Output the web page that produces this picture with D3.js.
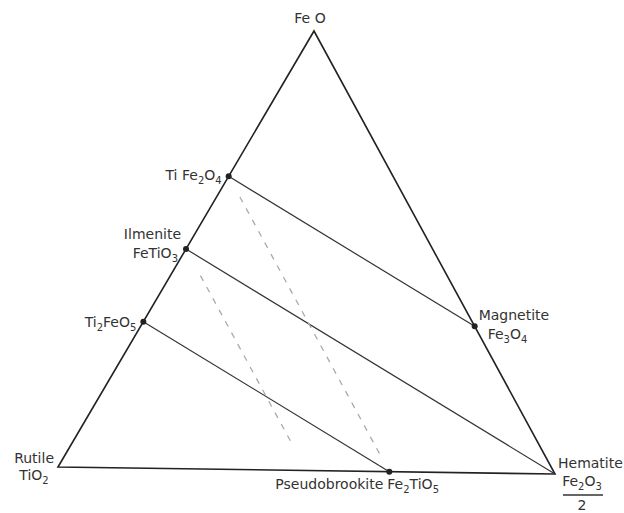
<!DOCTYPE html>
<html>
<head>
<meta charset="utf-8">
<script src="https://cdn.jsdelivr.net/npm/d3@7"></script>
<style>
  body { margin: 0; background: #fff; }
  text { font-family: "DejaVu Sans", "Liberation Sans", sans-serif; fill: #333; }
</style>
</head>
<body>
<div id="chart"></div>
<script>
// mole fractions: [TiO2, FeO, FeO1.5]
const phases = ["Rutile", "FeO", "Hematite", "TiFe2O4", "Ilmenite", "Ti2FeO5", "Magnetite", "Pseudobrookite"];
const tio2  = [1, 0, 0, 1/3, 1/2, 2/3, 0,   1/3];
const feo   = [0, 1, 0, 2/3, 1/2, 1/3, 1/3, 0];
const feo15 = [0, 0, 1, 0,   0,   0,   2/3, 2/3];

// solid tie lines between phases
const tieLines = [["TiFe2O4", "Magnetite"], ["Ilmenite", "Hematite"], ["Ti2FeO5", "Pseudobrookite"]];

// dashed oxidation trends at constant TiO2: [TiO2, FeO start, FeO end]
const dashTio2 = [1/3, 1/2];
const dashFeoStart = [0.62, 0.44];
const dashFeoEnd = [0.04, 0.06];

const width = 624, height = 513;

const svg = d3.select("#chart").append("svg")
  .attr("width", width)
  .attr("height", height);

// corners of the diagram on the page (Rutile, FeO, Hematite)
const corner = [[58, 467], [314, 31], [555, 474]];

function project(a, b, c) {
  const s = a + b + c;
  return [
    (a * corner[0][0] + b * corner[1][0] + c * corner[2][0]) / s,
    (a * corner[0][1] + b * corner[1][1] + c * corner[2][1]) / s
  ];
}

const pts = {};
phases.forEach((p, i) => { pts[p] = project(tio2[i], feo[i], feo15[i]); });

const line = d3.line();

// triangle
svg.append("path")
  .attr("d", line([pts.Rutile, pts.FeO, pts.Hematite]) + "Z")
  .attr("fill", "none")
  .attr("stroke", "#222")
  .attr("stroke-width", 1.6)
  .attr("stroke-linejoin", "miter");

// tie lines
svg.append("g")
  .selectAll("path")
  .data(tieLines)
  .join("path")
  .attr("d", d => line([pts[d[0]], pts[d[1]]]))
  .attr("fill", "none")
  .attr("stroke", "#333")
  .attr("stroke-width", 1.2);

// dashed lines
svg.append("g")
  .selectAll("path")
  .data(dashTio2)
  .join("path")
  .attr("d", (t, i) => {
    const f0 = dashFeoStart[i], f1 = dashFeoEnd[i];
    return line([project(t, f0, 1 - t - f0), project(t, f1, 1 - t - f1)]);
  })
  .attr("fill", "none")
  .attr("stroke", "#aaa")
  .attr("stroke-width", 1.3)
  .attr("stroke-dasharray", "6,7");

// phase markers
const markerPhases = ["TiFe2O4", "Ilmenite", "Ti2FeO5", "Magnetite", "Pseudobrookite"];
svg.append("g")
  .selectAll("circle")
  .data(markerPhases)
  .join("circle")
  .attr("cx", d => pts[d][0])
  .attr("cy", d => pts[d][1])
  .attr("r", 3)
  .attr("fill", "#222");

// labels: parts are [text, isSubscript]
function label(x, y, parts, anchor) {
  const t = svg.append("text")
    .attr("x", x)
    .attr("y", y)
    .attr("text-anchor", anchor || "start")
    .style("font-size", "14px");
  parts.forEach(([s, sub]) => {
    t.append("tspan")
      .attr("dy", sub ? 4 : (sub === false ? -4 : 0))
      .style("font-size", sub ? "10px" : "14px")
      .text(s);
  });
  return t;
}

label(pts.FeO[0] - 4, pts.FeO[1] - 8, [["Fe O"]], "middle");
label(pts.TiFe2O4[0] - 7, pts.TiFe2O4[1] + 4, [["Ti Fe"], ["2", true], ["O", false], ["4", true]], "end");
label(pts.Ilmenite[0] - 5, pts.Ilmenite[1] - 10, [["Ilmenite"]], "end");
label(pts.Ilmenite[0] - 8, pts.Ilmenite[1] + 9, [["FeTiO"], ["3", true]], "end");
label(pts.Ti2FeO5[0] - 7, pts.Ti2FeO5[1] + 5, [["Ti"], ["2", true], ["FeO", false], ["5", true]], "end");
label(pts.Rutile[0] - 4, pts.Rutile[1] - 4, [["Rutile"]], "end");
label(pts.Rutile[0] - 24, pts.Rutile[1] + 13, [["TiO"], ["2", true]], "middle");
label(pts.Pseudobrookite[0] - 6, pts.Pseudobrookite[1] + 17, [["Pseudobrookite"]], "end");
label(pts.Pseudobrookite[0] - 2, pts.Pseudobrookite[1] + 17, [["Fe"], ["2", true], ["TiO", false], ["5", true]]);
label(pts.Magnetite[0] + 4, pts.Magnetite[1] - 6, [["Magnetite"]]);
label(pts.Magnetite[0] + 13, pts.Magnetite[1] + 13, [["Fe"], ["3", true], ["O", false], ["4", true]]);
label(pts.Hematite[0] + 3, pts.Hematite[1] - 6, [["Hematite"]]);
label(pts.Hematite[0] + 27, pts.Hematite[1] + 12, [["Fe"], ["2", true], ["O", false], ["3", true]], "middle");
svg.append("line")
  .attr("x1", pts.Hematite[0] + 8).attr("x2", pts.Hematite[0] + 48)
  .attr("y1", pts.Hematite[1] + 21).attr("y2", pts.Hematite[1] + 21)
  .attr("stroke", "#333").attr("stroke-width", 1.3);
label(pts.Hematite[0] + 27, pts.Hematite[1] + 36, [["2"]], "middle");
</script>
</body>
</html>
